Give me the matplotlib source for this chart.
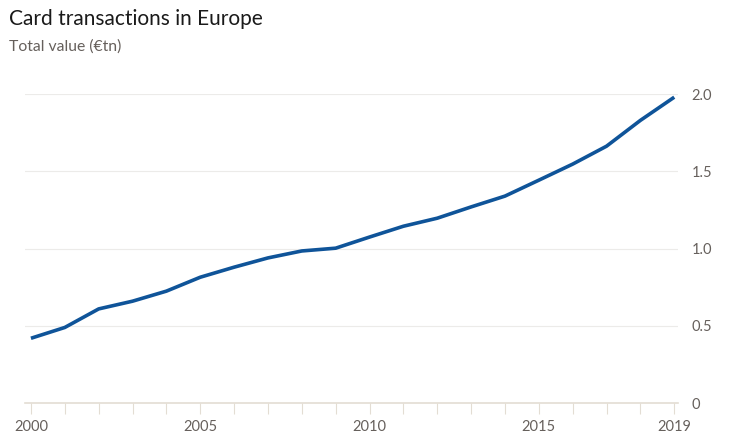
import numpy as np
import matplotlib.pyplot as plt
from matplotlib.ticker import MultipleLocator, FixedLocator

## data
years = list(range(2000, 2020))
values = [0.42, 0.49, 0.61, 0.66, 0.725, 0.815, 0.88, 0.94, 0.985, 1.003,
          1.075, 1.145, 1.197, 1.27, 1.34, 1.443, 1.547, 1.663, 1.83, 1.98]
xtick_years = [2000, 2005, 2010, 2015, 2019]
ytick_vals = [0, 0.5, 1.0, 1.5, 2.0]
ytick_labels = ['0', '0.5', '1.0', '1.5', '2.0']

plt.rcParams['font.family'] = ['Lato', 'DejaVu Sans']

fig = plt.figure(figsize=(7.31, 4.46), dpi=100)
ax = fig.add_axes([0.034, 0.096, 0.893, 0.693])

ax.plot(years, values, color='#0f5499', lw=2.6, solid_capstyle='butt', clip_on=False, zorder=3)

ax.set_xlim(1999.82, 2019.1)
ax.set_ylim(0, 2.0)

for s in ['left', 'right', 'top']:
    ax.spines[s].set_visible(False)
ax.spines['bottom'].set_color('#e3ddd3')
ax.spines['bottom'].set_linewidth(1.2)

ax.yaxis.tick_right()
ax.set_yticks(ytick_vals)
ax.set_yticklabels(ytick_labels)
ax.tick_params(axis='y', length=0, pad=10, labelsize=10.5, labelcolor='#66605c')
ax.grid(axis='y', color='#ecebe9', lw=0.8)
ax.set_axisbelow(True)

ax.xaxis.set_major_locator(FixedLocator(xtick_years))
ax.xaxis.set_minor_locator(FixedLocator([y for y in years if y not in xtick_years]))
ax.tick_params(axis='x', which='both', length=8, width=0.8, color='#e3ddd3',
               labelsize=10.5, labelcolor='#66605c', pad=4)

fig.text(0.012, 0.958, 'Card transactions in Europe', fontsize=15, color='#1a1a1a', va='center')
fig.text(0.012, 0.895, 'Total value (€tn)', fontsize=11.3, color='#66605c', va='center')

plt.savefig('out.png', dpi=100, facecolor='white')
